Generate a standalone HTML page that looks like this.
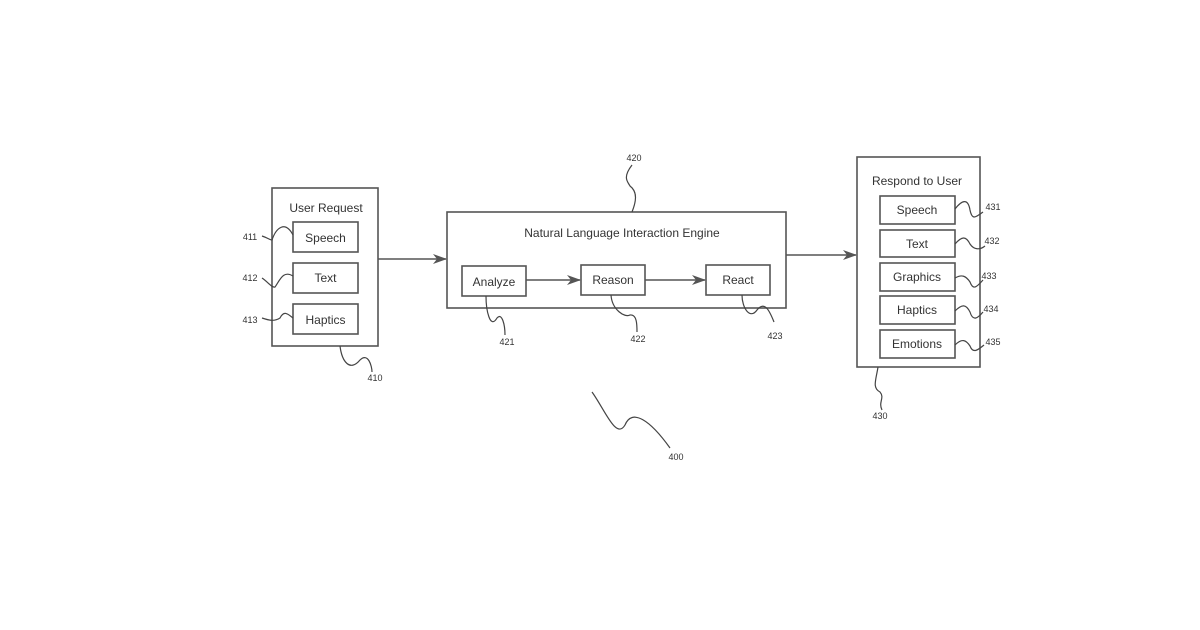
<!DOCTYPE html>
<html><head><meta charset="utf-8"><style>
html,body{margin:0;padding:0;background:#fff;width:1200px;height:630px;overflow:hidden}
svg text{font-family:"Liberation Sans",sans-serif;fill:#333}
</style></head><body>
<svg width="1200" height="630" viewBox="0 0 1200 630" xmlns="http://www.w3.org/2000/svg">
<defs><marker id="a" markerWidth="14" markerHeight="10" refX="13" refY="5" orient="auto" markerUnits="userSpaceOnUse"><path d="M0,0 L14,5 L0,10 L4,5 Z" fill="#555"/></marker></defs>
<g fill="none" stroke="#555" stroke-width="1.6">
<!-- left -->
<rect x="272" y="188" width="106" height="158"/>
<rect x="293" y="222" width="65" height="30"/>
<rect x="293" y="263" width="65" height="30"/>
<rect x="293" y="304" width="65" height="30"/>
<path d="M378,259 L446,259" marker-end="url(#a)"/>
<!-- middle -->
<rect x="447" y="212" width="339" height="96"/>
<rect x="462" y="266" width="64" height="30"/>
<rect x="581" y="265" width="64" height="30"/>
<rect x="706" y="265" width="64" height="30"/>
<path d="M526,280 L580,280" marker-end="url(#a)"/>
<path d="M645,280 L705,280" marker-end="url(#a)"/>
<path d="M786,255 L856,255" marker-end="url(#a)"/>
<!-- right -->
<rect x="857" y="157" width="123" height="210"/>
<rect x="880" y="196" width="75" height="28"/>
<rect x="880" y="230" width="75" height="27"/>
<rect x="880" y="263" width="75" height="28"/>
<rect x="880" y="296" width="75" height="28"/>
<rect x="880" y="330" width="75" height="28"/>
</g>
<g fill="none" stroke="#444" stroke-width="1.2">
<path d="M262,236 C268,238 270,240 272,240 C276,228 285,220 293,235"/>
<path d="M262,278 C268,282 272,288 275,287 C280,280 283,270 293,276"/>
<path d="M262,318 C268,320 274,322 280,318 C284,310 288,314 293,318"/>
<path d="M340,346 C342,362 350,372 360,360 C368,352 372,366 372,372"/>
<path d="M632,165 C622,178 628,182 630,186 C638,192 636,202 632,212"/>
<path d="M486,296 C486,310 490,330 497,318 C502,312 505,325 505,335"/>
<path d="M611,295 C612,310 625,318 630,315 C637,314 637,325 637,332"/>
<path d="M742,295 C742,308 750,320 757,310 C765,300 770,312 774,322"/>
<path d="M955,209 C962,200 968,198 970,210 C972,220 975,218 983,212"/>
<path d="M955,244 C962,236 966,236 970,244 C974,250 980,250 985,246"/>
<path d="M955,278 C962,274 966,276 970,282 C973,290 976,288 983,280"/>
<path d="M955,311 C962,304 966,304 970,312 C973,322 978,318 983,312"/>
<path d="M955,345 C962,338 966,340 970,346 C973,354 978,350 984,345"/>
<path d="M878,367 C876,380 872,388 880,392 C885,398 878,402 882,410"/>
<path d="M592,392 C605,410 616,440 625,425 C632,408 650,420 670,448"/>
</g>
<g font-size="12" text-anchor="middle">
<text x="326" y="212">User Request</text>
<text x="325.5" y="242">Speech</text>
<text x="325.5" y="282">Text</text>
<text x="325.5" y="324">Haptics</text>
<text x="622" y="237">Natural Language Interaction Engine</text>
<text x="494" y="286">Analyze</text>
<text x="613" y="284">Reason</text>
<text x="738" y="284">React</text>
<text x="917" y="185">Respond to User</text>
<text x="917" y="214">Speech</text>
<text x="917" y="248">Text</text>
<text x="917" y="281">Graphics</text>
<text x="917" y="314">Haptics</text>
<text x="917" y="348">Emotions</text>
</g>
<g font-size="9" text-anchor="middle">
<text x="250" y="240">411</text>
<text x="250" y="281">412</text>
<text x="250" y="323">413</text>
<text x="375" y="381">410</text>
<text x="634" y="161">420</text>
<text x="507" y="345">421</text>
<text x="638" y="342">422</text>
<text x="775" y="339">423</text>
<text x="993" y="210">431</text>
<text x="992" y="244">432</text>
<text x="989" y="279">433</text>
<text x="991" y="312">434</text>
<text x="993" y="345">435</text>
<text x="880" y="419">430</text>
<text x="676" y="460">400</text>
</g>
</svg>
</body></html>
